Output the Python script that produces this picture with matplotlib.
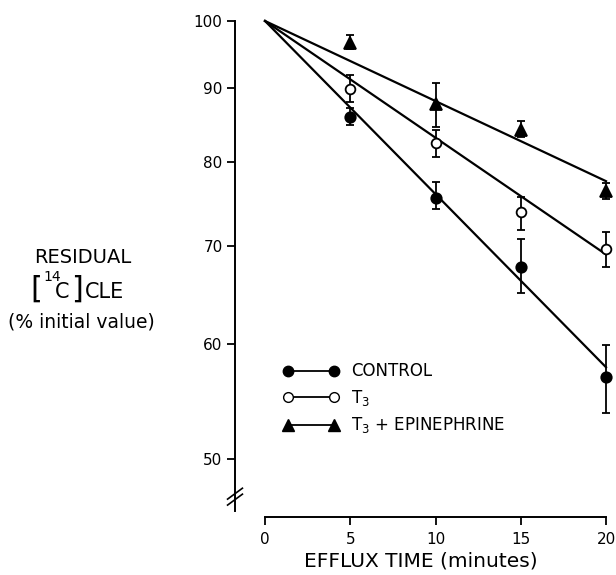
import matplotlib
matplotlib.use("Agg")
from matplotlib import pyplot as plt
from matplotlib.ticker import FixedLocator, FixedFormatter, NullLocator
from matplotlib.lines import Line2D

# efflux time (minutes)
time = [5, 10, 15, 20]

# residual [14C]CLE, % of initial value
control = [85.9, 75.6, 67.7, 56.9]
control_hi = [87.1, 77.5, 70.8, 59.9]
control_lo = [84.8, 74.3, 65.0, 53.8]

t3 = [89.8, 82.4, 73.9, 69.7]
t3_hi = [91.8, 84.2, 75.7, 71.6]
t3_lo = [88.0, 80.6, 71.8, 67.7]

t3_epi = [96.6, 87.7, 84.2, 76.4]
t3_epi_hi = [97.8, 90.7, 85.4, 77.4]
t3_epi_lo = [95.6, 84.6, 83.2, 75.4]

# fitted lines (start, end)
fit_time = [0, 20]
control_fit = [100, 57.8]
t3_fit = [100, 69.1]
t3_epi_fit = [100, 77.6]

yticks = [50, 60, 70, 80, 90, 100]
xticks = [0, 5, 10, 15, 20]

plt.rcParams['font.family'] = 'DejaVu Sans'
plt.rcParams['mathtext.fontset'] = 'dejavusans'

fig = plt.figure(figsize=(6.16, 5.75), dpi=100)
ax = fig.add_axes([0.3815, 0.1009, 0.6023, 0.8626])

series = [
    (control, control_lo, control_hi, control_fit, dict(marker='o', mfc='black', ms=7.5)),
    (t3, t3_lo, t3_hi, t3_fit, dict(marker='o', mfc='white', ms=7)),
    (t3_epi, t3_epi_lo, t3_epi_hi, t3_epi_fit, dict(marker='^', mfc='black', ms=8)),
]

for vals, lo, hi, fit, style in series:
    ax.plot(fit_time, fit, color='black', lw=1.6, clip_on=False, zorder=2)
    err = [[v - l for v, l in zip(vals, lo)], [h - v for v, h in zip(vals, hi)]]
    ax.errorbar(time, vals, yerr=err, fmt='none', ecolor='black', elinewidth=1.3,
                capsize=3, capthick=1.3, clip_on=False, zorder=3)
    ax.plot(time, vals, linestyle='none', color='black', mec='black', mew=1.3,
            clip_on=False, zorder=4, **style)

ax.set_yscale('log')
ax.set_ylim(45.6, 100)
ax.set_xlim(-1.76, 20)
ax.yaxis.set_major_locator(FixedLocator(yticks))
ax.yaxis.set_major_formatter(FixedFormatter([str(t) for t in yticks]))
ax.yaxis.set_minor_locator(NullLocator())
ax.set_xticks(xticks)
ax.set_xticklabels([str(t) for t in xticks])

for s in ['top', 'right']:
    ax.spines[s].set_visible(False)
ax.spines['left'].set_linewidth(1.4)
ax.spines['bottom'].set_linewidth(1.4)
ax.spines['bottom'].set_bounds(0, 20)
ax.spines['left'].set_bounds(46.0, 100)
ax.tick_params(axis='y', direction='out', length=6, width=1.3, pad=3, labelsize=11)
ax.tick_params(axis='x', direction='out', length=6, width=1.3, pad=5, labelsize=11)

# axis break marks
for dy in [0.0, 0.012]:
    ax.plot([-0.02, 0.02], [0.024 + dy, 0.046 + dy], transform=ax.transAxes,
            color='black', lw=1.2, clip_on=False)

ax.set_xlabel('EFFLUX TIME (minutes)', fontsize=14.5, labelpad=3)

# y label, three lines, brackets drawn larger
fig.text(0.135, 0.553, 'RESIDUAL', ha='center', va='center', fontsize=14)
fig.text(0.050, 0.497, '[', ha='left', va='center', fontsize=22)
fig.text(0.071, 0.518, '14', ha='left', va='center', fontsize=10)
fig.text(0.089, 0.492, 'C', ha='left', va='center', fontsize=15)
fig.text(0.116, 0.497, ']', ha='left', va='center', fontsize=22)
fig.text(0.137, 0.492, 'CLE', ha='left', va='center', fontsize=15)
fig.text(0.132, 0.44, '(% initial value)', ha='center', va='center', fontsize=13.5)

handles = [
    Line2D([], [], color='black', lw=1.3, marker='o', mfc='black', mec='black', ms=7.5),
    Line2D([], [], color='black', lw=1.3, marker='o', mfc='white', mec='black', ms=7),
    Line2D([], [], color='black', lw=1.3, marker='^', mfc='black', mec='black', ms=8),
]
labels = ['CONTROL', r'T$_3$', r'T$_3$ + EPINEPHRINE']
ax.legend(handles, labels, numpoints=2, frameon=False, fontsize=12,
          handlelength=3.35, handletextpad=0.75, labelspacing=0.45,
          loc='upper left', bbox_to_anchor=(0.111, 0.325), borderaxespad=0)

fig.savefig('out.png', dpi=100)
